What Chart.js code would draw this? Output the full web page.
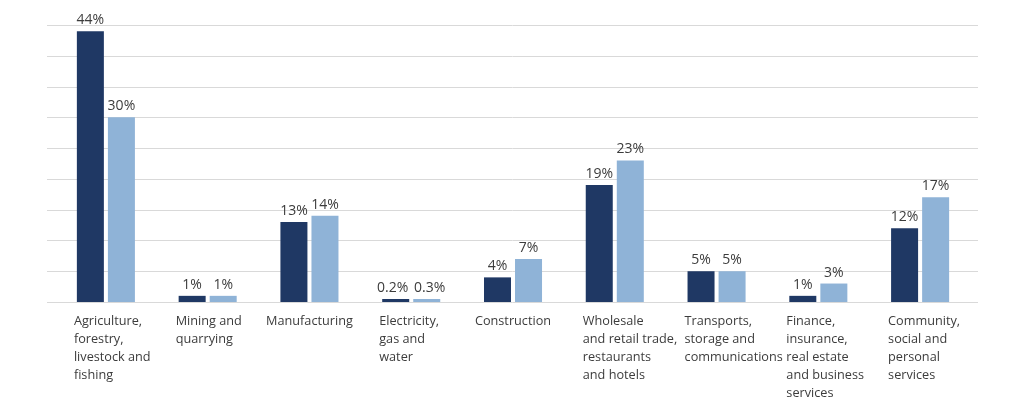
<!DOCTYPE html>
<html>
<head>
<meta charset="utf-8">
<script src="https://cdn.jsdelivr.net/npm/chart.js@4/dist/chart.umd.min.js"></script>
<style>
  body { margin: 0; background: #fff; }
  #wrap { width: 1010px; height: 414px; position: relative; }
</style>
</head>
<body>
<div id="wrap"><canvas id="sectorChart"></canvas></div>
<script>
// Sectors, wrapped onto several lines the way they appear under the bars
const categories = [
    ['Agriculture,', 'forestry,', 'livestock and', 'fishing'],
    ['Mining and', 'quarrying'],
    ['Manufacturing'],
    ['Electricity,', 'gas and', 'water'],
    ['Construction'],
    ['Wholesale', 'and retail trade,', 'restaurants', 'and hotels'],
    ['Transports,', 'storage and', 'communications'],
    ['Finance,', 'insurance,', 'real estate', 'and business', 'services'],
    ['Community,', 'social and', 'personal', 'services']
];

// Share of each sector (%)
const seriesA = [44, 1, 13, 0.2, 4, 19, 5, 1, 12];
const seriesB = [30, 1, 14, 0.3, 7, 23, 5, 3, 17];

// Horizontal grid steps (%)
const gridTicks = [0, 5, 10, 15, 20, 25, 30, 35, 40, 45];

const textColor = '#3c3c3c';
const fontFamily = '"Open Sans", "Noto Sans", sans-serif';

// Grid lines run a little past the plot area on both sides
const gridPlugin = {
    id: 'wideGrid',
    beforeDatasetsDraw(chart) {
        const { ctx, chartArea, scales } = chart;
        ctx.save();
        ctx.strokeStyle = '#d9d9d9';
        ctx.lineWidth = 1;
        gridTicks.forEach(v => {
            const y = Math.round(scales.y.getPixelForValue(v)) + 0.5;
            ctx.beginPath();
            ctx.moveTo(chartArea.left - 8, y);
            ctx.lineTo(chartArea.right + 7, y);
            ctx.stroke();
        });
        ctx.restore();
    }
};

// Percent labels above bars + left-aligned category labels
const labelPlugin = {
    id: 'barLabels',
    afterDatasetsDraw(chart) {
        const { ctx, scales, chartArea } = chart;
        ctx.save();
        ctx.fillStyle = textColor;
        ctx.font = '14px ' + fontFamily;
        ctx.textAlign = 'center';
        ctx.textBaseline = 'bottom';
        chart.data.datasets.forEach((ds, i) => {
            chart.getDatasetMeta(i).data.forEach((bar, j) => {
                // nudge the small decimal labels apart so they don't touch
                let dx = 0;
                if (ds.data[j] < 1) dx = i === 0 ? -3 : 3;
                ctx.fillText(ds.data[j] + '%', bar.x + dx, bar.y - 4);
            });
        });

        ctx.font = '12.7px ' + fontFamily;
        ctx.textBaseline = 'alphabetic';
        categories.forEach((lines, j) => {
            const cx = scales.x.getPixelForValue(j);
            const single = lines.length === 1;
            ctx.textAlign = single ? 'center' : 'left';
            const x = single ? cx : cx - 32;
            lines.forEach((line, k) => {
                ctx.fillText(line, x, chartArea.bottom + 23 + k * 18);
            });
        });
        ctx.restore();
    }
};

const ctx = document.getElementById('sectorChart').getContext('2d');
const chart = new Chart(ctx, {
    type: 'bar',
    data: {
        labels: categories,
        datasets: [{
            label: 'Series 1',
            data: seriesA,
            backgroundColor: '#1f3864'
        }, {
            label: 'Series 2',
            data: seriesB,
            backgroundColor: '#8fb3d7'
        }]
    },
    options: {
        responsive: true,
        maintainAspectRatio: false,
        animation: false,
        layout: {
            padding: { left: 55, right: 39, top: 25, bottom: 112 }
        },
        datasets: {
            bar: {
                categoryPercentage: 0.61,
                barPercentage: 0.87,
                minBarLength: 3
            }
        },
        plugins: {
            legend: { display: false },
            tooltip: { enabled: false }
        },
        scales: {
            x: {
                display: false
            },
            y: {
                display: false,
                min: 0,
                max: 45
            }
        }
    },
    plugins: [gridPlugin, labelPlugin]
});
</script>
</body>
</html>
